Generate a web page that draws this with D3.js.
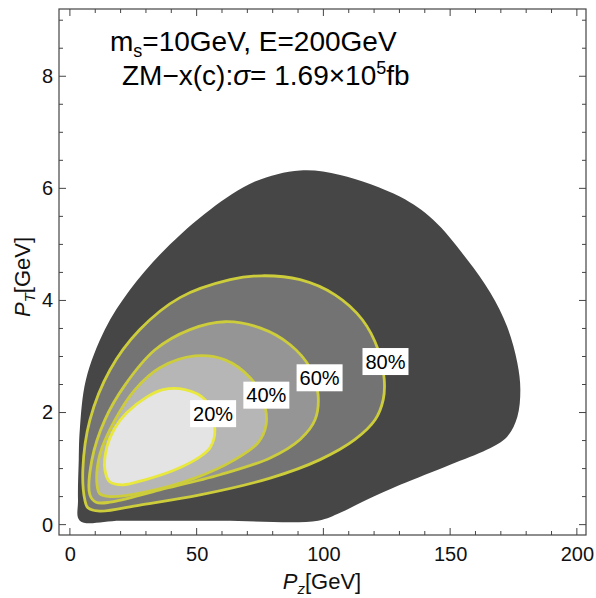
<!DOCTYPE html>
<html>
<head>
<meta charset="utf-8">
<script src="https://cdn.jsdelivr.net/npm/d3@7"></script>
<style>
  html, body { margin: 0; padding: 0; background: #fff; }
  svg { display: block; font-family: "Liberation Sans", Arial, sans-serif; }
</style>
</head>
<body>
<svg id="chart" width="596" height="598"></svg>
<script>
// Region boundaries in (Pz [GeV], PT [GeV]) coordinates
const outerRegion = [
  [3.9, 1.69], [6.3, 2.58], [13.8, 3.48], [23.7, 4.19], [37.5, 4.91], [55.3, 5.62],
  [73.0, 6.12], [90.8, 6.32], [106.6, 6.24], [130.3, 5.85], [143.3, 5.44], [156.7, 4.73],
  [165.8, 4.14], [172.5, 3.53], [176.5, 2.89], [177.7, 2.41], [176.5, 1.92], [172.5, 1.57],
  [164.6, 1.34], [150.0, 1.07], [130.3, 0.71], [116.9, 0.44], [106.6, 0.21], [97.9, 0.07],
  [60.0, 0.07], [20.0, 0.07], [3.9, 0.07], [3.2, 0.44], [3.5, 1.16]
];
const contour80 = [
  [5.9, 0.44], [5.1, 0.98], [7.9, 1.87], [15.8, 2.76], [27.6, 3.48], [43.4, 4.05],
  [63.2, 4.37], [75.8, 4.44], [90.8, 4.37], [104.6, 4.10], [115.3, 3.66], [121.6, 3.12],
  [124.0, 2.59], [123.6, 2.23], [120.4, 1.87], [112.5, 1.52], [98.7, 1.16], [79.0, 0.83],
  [51.3, 0.53], [27.6, 0.35], [11.8, 0.24], [7.1, 0.30]
];
const contour60 = [
  [7.9, 0.53], [8.7, 1.16], [13.8, 1.87], [21.7, 2.49], [33.6, 3.12], [47.4, 3.48],
  [61.2, 3.62], [75.0, 3.51], [86.9, 3.21], [94.7, 2.80], [97.9, 2.32], [96.7, 1.87],
  [90.8, 1.52], [79.0, 1.19], [59.2, 0.89], [35.5, 0.62], [15.8, 0.40], [10.3, 0.40]
];
const contour40 = [
  [10.7, 0.71], [11.8, 1.25], [17.8, 1.87], [25.7, 2.41], [35.5, 2.80], [49.3, 3.01],
  [61.2, 2.94], [71.1, 2.62], [76.2, 2.23], [77.4, 1.78], [74.2, 1.46], [65.1, 1.16],
  [49.3, 0.83], [29.6, 0.58], [15.8, 0.50], [11.8, 0.55]
];
const contour20 = [
  [13.8, 0.98], [14.6, 1.39], [17.8, 1.73], [22.5, 2.00], [30.4, 2.28], [36.7, 2.41],
  [45.4, 2.41], [53.3, 2.23], [57.2, 1.69], [55.3, 1.37], [51.3, 1.21], [41.5, 0.98],
  [29.6, 0.80], [20.9, 0.71], [15.8, 0.76]
];

const levelNames = ["80%", "60%", "40%", "20%"];
const levelFills = ["#737373", "#959595", "#b6b6b6", "#e4e4e4"];
// label anchor points (Pz, PT) on each contour
const labelPos = [[124.5, 2.91], [98.5, 2.62], [77.5, 2.31], [56.5, 1.98]];

const xTicks = [0, 50, 100, 150, 200];
const yTicks = [0, 2, 4, 6, 8];

const svg = d3.select("#chart");
const W = 596, H = 598;
const m = { left: 59, right: 10, top: 9, bottom: 63 };

const x = d3.scaleLinear().domain([-4.3, 203.6]).range([m.left, W - m.right]);
const y = d3.scaleLinear().domain([-0.185, 9.2]).range([H - m.bottom, m.top]);

const defs = svg.append("defs");
defs.append("clipPath").attr("id", "plotclip")
  .append("rect")
  .attr("x", m.left).attr("y", m.top)
  .attr("width", W - m.left - m.right).attr("height", H - m.top - m.bottom);

const g = svg.append("g").attr("clip-path", "url(#plotclip)");

const line = d3.line()
  .x(d => x(d[0])).y(d => y(d[1]))
  .curve(d3.curveCatmullRomClosed.alpha(0.5));

// outermost region
g.append("path").attr("d", line(outerRegion)).attr("fill", "#464646");

const contours = [contour80, contour60, contour40, contour20];
contours.forEach((c, i) => {
  g.append("path").attr("d", line(c)).attr("fill", levelFills[i]);
});
contours.forEach((c, i) => {
  g.append("path").attr("d", line(c))
    .attr("fill", "none")
    .attr("stroke", i === 3 ? "#e8e83e" : "#cdcd3c")
    .attr("stroke-width", 2.8);
});

// contour labels
levelNames.forEach((name, i) => {
  const lx = x(labelPos[i][0]), ly = y(labelPos[i][1]);
  const lg = g.append("g").attr("transform", `translate(${lx},${ly})`);
  lg.append("rect").attr("x", -23).attr("y", -13.5).attr("width", 46).attr("height", 27).attr("fill", "#fff");
  lg.append("text").attr("text-anchor", "middle").attr("dy", "0.36em")
    .attr("font-size", 20).attr("fill", "#000").text(name);
});

// frame and ticks
const frameColor = "#444";
const axB = d3.axisBottom(x).tickValues(xTicks).tickSize(0).tickPadding(12);
const axL = d3.axisLeft(y).tickValues(yTicks).tickSize(0).tickPadding(6);

const bx = svg.append("g").attr("transform", `translate(0,${H - m.bottom})`).call(axB);
const ly = svg.append("g").attr("transform", `translate(${m.left},0)`).call(axL);
[bx, ly].forEach(a => {
  a.select(".domain").remove();
  a.selectAll("text").attr("font-size", 20).attr("fill", "#111")
    .attr("font-family", "Liberation Sans, Arial, sans-serif");
});

svg.append("rect")
  .attr("x", m.left).attr("y", m.top)
  .attr("width", W - m.left - m.right).attr("height", H - m.top - m.bottom)
  .attr("fill", "none").attr("stroke", frameColor).attr("stroke-width", 1.2);

const xMinor = d3.range(0, 201, 10);
const yMinor = d3.range(0, 9.01, 0.5);
const tk = svg.append("g").attr("stroke", frameColor).attr("stroke-width", 1);
xMinor.forEach(v => {
  const len = v % 50 === 0 ? 7 : 4;
  const px = x(v);
  tk.append("line").attr("x1", px).attr("x2", px).attr("y1", H - m.bottom).attr("y2", H - m.bottom - len);
  tk.append("line").attr("x1", px).attr("x2", px).attr("y1", m.top).attr("y2", m.top + len);
});
yMinor.forEach(v => {
  const len = Math.abs(v % 2) < 1e-9 ? 7 : 4;
  const py = y(v);
  tk.append("line").attr("x1", m.left).attr("x2", m.left + len).attr("y1", py).attr("y2", py);
  tk.append("line").attr("x1", W - m.right).attr("x2", W - m.right - len).attr("y1", py).attr("y2", py);
});

// axis titles
const xt = svg.append("text").attr("x", 322).attr("y", 589).attr("text-anchor", "middle")
  .attr("font-size", 22).attr("fill", "#111");
xt.append("tspan").attr("font-style", "italic").text("P");
xt.append("tspan").attr("font-style", "italic").attr("font-size", 15).attr("dy", 5).text("z");
xt.append("tspan").attr("dy", -5).text("[GeV]");

const yt = svg.append("text").attr("transform", "translate(30,277) rotate(-90)")
  .attr("text-anchor", "middle").attr("font-size", 22).attr("fill", "#111");
yt.append("tspan").attr("font-style", "italic").text("P");
yt.append("tspan").attr("font-style", "italic").attr("font-size", 15).attr("dy", 5).text("T");
yt.append("tspan").attr("dy", -5).text("[GeV]");

// header annotations
const t1 = svg.append("text").attr("x", 110).attr("y", 51).attr("font-size", 28).attr("fill", "#000");
t1.append("tspan").text("m");
t1.append("tspan").attr("font-size", 18).attr("dy", 6).text("s");
t1.append("tspan").attr("dy", -6).text("=10GeV, E=200GeV");

const t2 = svg.append("text").attr("x", 122).attr("y", 85).attr("font-size", 28).attr("fill", "#000");
t2.append("tspan").text("ZM\u2212x(c):");
t2.append("tspan").attr("font-style", "italic").text("\u03C3");
t2.append("tspan").text("= 1.69\u00D710");
t2.append("tspan").attr("font-size", 18).attr("dy", -11).text("5");
t2.append("tspan").attr("dy", 11).text("fb");
</script>
</body>
</html>
